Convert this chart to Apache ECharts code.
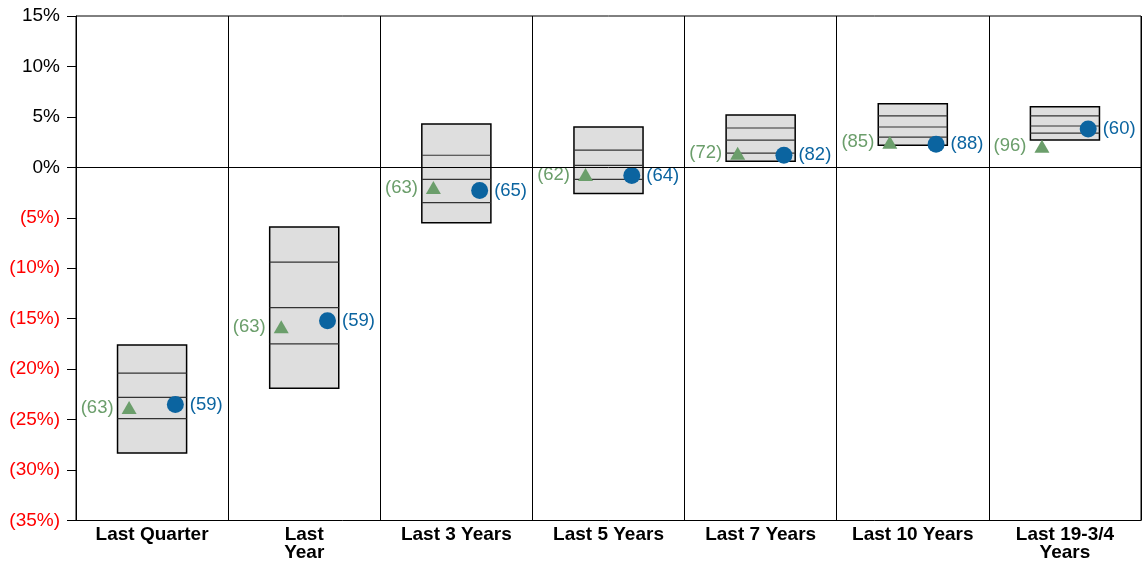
<!DOCTYPE html>
<html>
<head>
<meta charset="utf-8">
<script src="https://cdn.jsdelivr.net/npm/echarts@6/dist/echarts.min.js"></script>
<style>
  html, body { margin: 0; padding: 0; background: #fff; }
  #chart { width: 1142px; height: 562px; }
</style>
</head>
<body>
<div id="chart"></div>
<script>
// periods along the x axis
const categories = ["Last Quarter", "Last\nYear", "Last 3 Years", "Last 5 Years", "Last 7 Years", "Last 10 Years", "Last 19-3/4\nYears"];
// universe percentiles (box top -> bottom)
const p5 = [-17.6, -5.9, 4.3, 4.0, 5.2, 6.3, 6.0];
const p25 = [-20.4, -9.4, 1.2, 1.7, 3.9, 5.1, 5.1];
const p50 = [-22.8, -13.9, -1.2, 0.2, 2.7, 4.0, 4.1];
const p75 = [-24.9, -17.5, -3.5, -1.2, 1.4, 3.0, 3.4];
const p95 = [-28.3, -21.9, -5.5, -2.6, 0.6, 2.2, 2.7];
// index (triangle) and fund (circle) returns with ranks
const indexVals = [-23.8, -15.8, -2.0, -0.7, 1.4, 2.5, 2.1];
const indexRank = [63, 63, 63, 62, 72, 85, 96];
const fundVals = [-23.5, -15.2, -2.3, -0.8, 1.2, 2.3, 3.8];
const fundRank = [59, 59, 65, 64, 82, 88, 60];
// y ticks
const yMin = -35, yMax = 15, yStep = 5;

const FONT = "Liberation Sans";
const GREEN = "#6b9e6b";
const BLUE = "#0b64a0";

var myChart = echarts.init(document.getElementById("chart"));

const boxData = categories.map((c, i) => [i + 0.5, p5[i], p25[i], p50[i], p75[i], p95[i]]);

myChart.setOption({
  animation: false,
  textStyle: { fontFamily: FONT },
  grid: {
    left: 76, right: 1, top: 16, bottom: 41,
    show: true, borderColor: "#000", borderWidth: 1,
  },
  xAxis: [
    {
      type: "category",
      data: categories,
      axisLine: { show: true, lineStyle: { color: "#000" } },
      axisTick: { show: false },
      splitLine: { show: true, interval: 0, lineStyle: { color: "#000", width: 1 } },
      axisLabel: {
        interval: 0, margin: 5, color: "#000",
        fontFamily: FONT, fontSize: 19, fontWeight: "bold", lineHeight: 18,
      },
    },
    { type: "value", min: 0, max: categories.length, show: false },
  ],
  yAxis: {
    type: "value",
    min: yMin, max: yMax, interval: yStep,
    axisLine: { show: true, lineStyle: { color: "#000" } },
    axisTick: { show: true, length: 9, lineStyle: { color: "#000" } },
    splitLine: { show: false },
    axisLabel: {
      margin: 16, fontFamily: FONT, fontSize: 19,
      formatter: (v) => (v < 0 ? "(" + Math.abs(v) + "%)" : v + "%"),
      color: (v) => (Number(v) < 0 ? "#ff0000" : "#000"),
    },
  },
  series: [
    {
      type: "custom",
      xAxisIndex: 1,
      data: boxData,
      renderItem: function (params, api) {
        const x = api.value(0);
        const left = api.coord([x - 0.227, api.value(1)]);
        const right = api.coord([x + 0.227, api.value(5)]);
        const children = [{
          type: "rect",
          shape: { x: left[0], y: left[1], width: right[0] - left[0], height: right[1] - left[1] },
          style: { fill: "#dedede", stroke: "#000", lineWidth: 1.5 },
        }];
        for (let k = 2; k <= 4; k++) {
          const y = api.coord([x, api.value(k)])[1];
          children.push({
            type: "line",
            shape: { x1: left[0], y1: y, x2: right[0], y2: y },
            style: { stroke: "#333", lineWidth: 1.2 },
          });
        }
        return { type: "group", children: children };
      },
      markLine: {
        silent: true, symbol: "none", label: { show: false },
        lineStyle: { color: "#000", width: 1, type: "solid" },
        data: [{ yAxis: 0 }],
      },
      z: 2,
    },
    {
      type: "scatter",
      xAxisIndex: 1,
      symbol: "triangle",
      symbolSize: [15, 13],
      itemStyle: { color: GREEN, opacity: 1 },
      data: indexVals.map((v, i) => [i + 0.5 - 0.151, v, indexRank[i]]),
      label: {
        show: true, position: "left", distance: 8,
        color: GREEN, fontFamily: FONT, fontSize: 18.5,
        formatter: (p) => "(" + p.data[2] + ")",
      },
      z: 3,
    },
    {
      type: "scatter",
      xAxisIndex: 1,
      symbol: "circle",
      symbolSize: 17,
      itemStyle: { color: BLUE, opacity: 1 },
      data: fundVals.map((v, i) => [i + 0.5 + 0.153, v, fundRank[i]]),
      label: {
        show: true, position: "right", distance: 6,
        color: BLUE, fontFamily: FONT, fontSize: 18.5,
        formatter: (p) => "(" + p.data[2] + ")",
      },
      z: 3,
    },
  ],
});
</script>
</body>
</html>
